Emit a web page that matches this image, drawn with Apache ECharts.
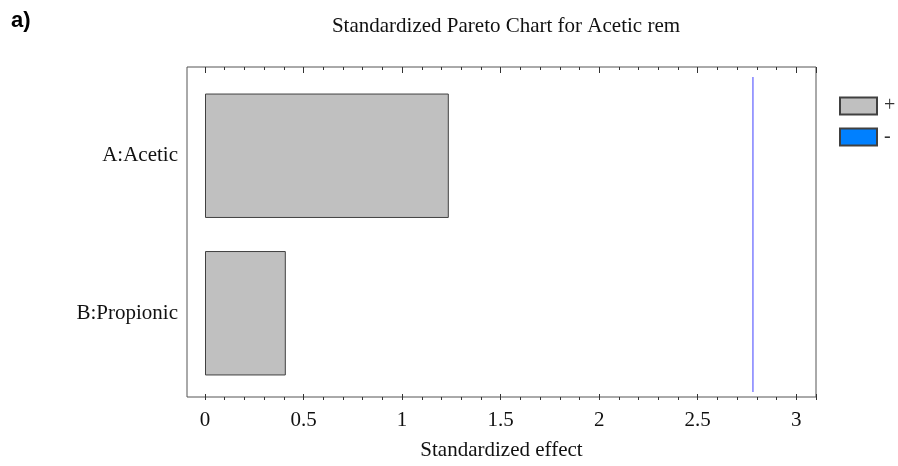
<!DOCTYPE html>
<html>
<head>
<meta charset="utf-8">
<script src="https://cdn.jsdelivr.net/npm/echarts@6/dist/echarts.min.js"></script>
<style>
html,body{margin:0;padding:0;background:#fff;}
#chart{width:898px;height:466px;}
</style>
</head>
<body>
<div id="chart"></div>
<script>
const categories = ['A:Acetic', 'B:Propionic'];
const positiveEffects = [1.237, 0.41];
const negativeEffects = [null, null];
const criticalValue = 2.78;
const criticalSpan = [0, 1];
const xTicks = [0, 0.5, 1, 1.5, 2, 2.5, 3];

const serif = '"Liberation Serif", "Times New Roman", serif';
const chart = echarts.init(document.getElementById('chart'));

const tickAxis = (pos) => ({
  gridIndex: 1, type: 'value', min: 0, max: 3.1, interval: 0.5, position: pos,
  axisLine: { show: false },
  axisTick: { show: true, inside: true, length: 6, lineStyle: { color: '#333' } },
  minorTick: { show: true, splitNumber: 5, length: 3, lineStyle: { color: '#333' } },
  splitLine: { show: false },
  axisLabel: pos === 'bottom' ? {
    fontFamily: serif, fontSize: 21, color: '#111', margin: 10,
    formatter: v => (xTicks.indexOf(v) >= 0 ? String(v) : '')
  } : { show: false }
});

const option = {
  backgroundColor: '#fff',
  animation: false,
  title: {
    text: 'Standardized Pareto Chart for Acetic rem',
    left: 501, textAlign: 'center', top: 11,
    textStyle: { fontFamily: serif, fontSize: 21, fontWeight: 'normal', color: '#111' }
  },
  graphic: [{
    type: 'text', left: 11, top: 10,
    style: { text: 'a)', font: 'bold 22px "Liberation Sans", Arial, sans-serif', fill: '#000' }
  }],
  legend: {
    data: ['+', '-'],
    orient: 'vertical', left: 834, top: 91,
    itemWidth: 37, itemHeight: 17, itemGap: 11,
    icon: 'rect',
    textStyle: { fontFamily: serif, fontSize: 20, color: '#333', padding: [0, 0, 0, 2] }
  },
  grid: [
    { left: 187, right: 82, top: 67, bottom: 66, show: true, borderColor: '#555', borderWidth: 1, backgroundColor: 'transparent' },
    { left: 205, right: 82, top: 67, bottom: 66 },
    { left: 205, right: 82, top: 77, bottom: 74 }
  ],
  xAxis: [
    {
      gridIndex: 0, type: 'value', min: 0, max: 1,
      axisLine: { show: false }, axisTick: { show: false }, axisLabel: { show: false }, splitLine: { show: false },
      name: 'Standardized effect', nameLocation: 'middle', nameGap: 43,
      nameTextStyle: { fontFamily: serif, fontSize: 21, color: '#111' }
    },
    tickAxis('bottom'),
    tickAxis('top'),
    { gridIndex: 2, type: 'value', min: 0, max: 3.1, show: false }
  ],
  yAxis: [
    { gridIndex: 0, type: 'value', min: 0, max: 1, show: false },
    { gridIndex: 1, type: 'value', min: 0, max: 1, show: false },
    {
      gridIndex: 2, type: 'category', data: categories, inverse: true,
      axisLine: { show: false }, axisTick: { show: false },
      axisLabel: { fontFamily: serif, fontSize: 21, color: '#111', margin: 27 }
    },
    { gridIndex: 2, type: 'value', min: 0, max: 1, show: false }
  ],
  series: [
    {
      name: '+', type: 'bar', xAxisIndex: 3, yAxisIndex: 2, stack: 'e',
      data: positiveEffects, barCategoryGap: '21%',
      itemStyle: { color: '#c0c0c0', borderColor: '#404040', borderWidth: 1 }
    },
    {
      name: '-', type: 'bar', xAxisIndex: 3, yAxisIndex: 2, stack: 'e',
      data: negativeEffects,
      itemStyle: { color: '#0080ff', borderColor: '#404040', borderWidth: 1 }
    },
    {
      name: 'critical', type: 'line', xAxisIndex: 3, yAxisIndex: 3,
      data: criticalSpan.map(y => [criticalValue, y]),
      symbol: 'none', lineStyle: { color: '#8080ff', width: 1.5 }, silent: true
    }
  ]
};
chart.setOption(option);
</script>
</body>
</html>
